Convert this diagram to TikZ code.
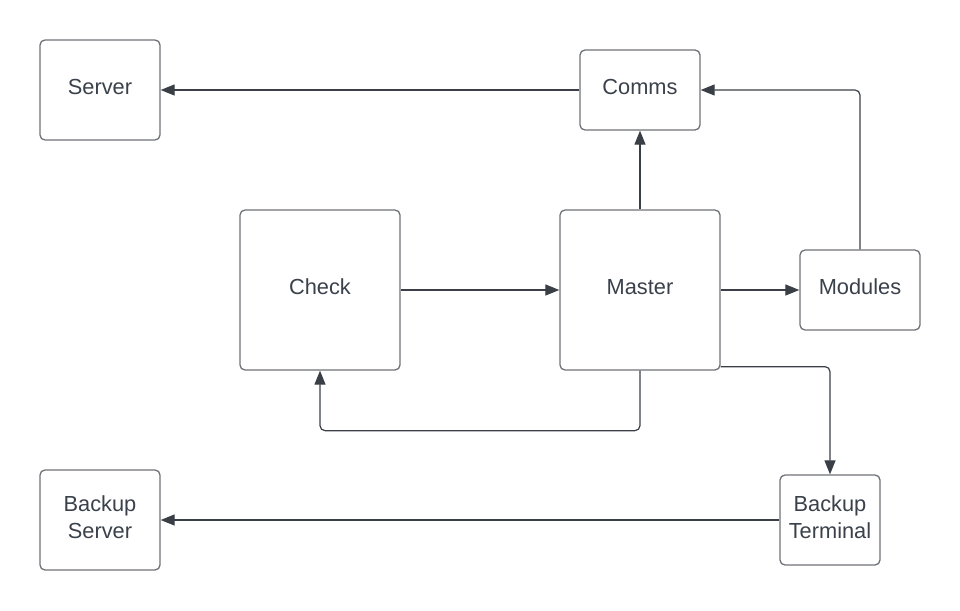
\documentclass[tikz,border=0pt]{standalone}
\usepackage{fontspec}
\setmainfont{Liberation Sans}
\usetikzlibrary{arrows.meta,positioning}
\definecolor{boxline}{HTML}{6E7178}
\definecolor{linkline}{HTML}{3A3F47}
\definecolor{textcol}{HTML}{3A414A}
\begin{document}
\begin{tikzpicture}[x=1pt, y=-1pt]

\tikzstyle{box} = [rectangle, draw=boxline, line width=1.3pt, rounded corners=5pt, text=textcol, align=center, text depth=6pt, font=\fontsize{21.8}{27}\selectfont]
\tikzstyle{arrow} = [draw=linkline, line width=1.2pt, rounded corners=5pt, -{Triangle[length=14pt,width=11pt]}]

\useasboundingbox (0,0) rectangle (960,610);

% Middle row
\node (master) [box, minimum width=160pt, minimum height=160pt] at (640,290) {Master};
\node (check) [box, minimum width=160pt, minimum height=160pt, left of=master, node distance=320pt] {Check};
\node (modules) [box, minimum width=120pt, minimum height=80pt, right of=master, node distance=220pt] {Modules};

% Top row
\node (comms) [box, minimum width=120pt, minimum height=80pt, above of=master, node distance=200pt] {Comms};
\node (server) [box, minimum width=120pt, minimum height=100pt, left of=comms, node distance=540pt] {Server};

% Bottom row
\node (bterm) [box, minimum width=100pt, minimum height=90pt, below of=modules, node distance=230pt, xshift=-30pt] {Backup\\Terminal};
\node (bserver) [box, minimum width=120pt, minimum height=100pt, below of=server, node distance=430pt] {Backup\\Server};

% Paths
\draw [arrow] (comms) -- (server);
\draw [arrow] (master) -- (comms);
\draw [arrow] (modules.north) |- (comms.east);
\draw [arrow] (check) -- (master);
\draw [arrow] (master) -- (modules);
\draw [arrow] (master.south) -- ++(0,60) -| (check.south);
\draw [arrow] ([yshift=4pt]master.south east) -| (bterm.north);
\draw [arrow] (bterm) -- (bserver);

\end{tikzpicture}
\end{document}
